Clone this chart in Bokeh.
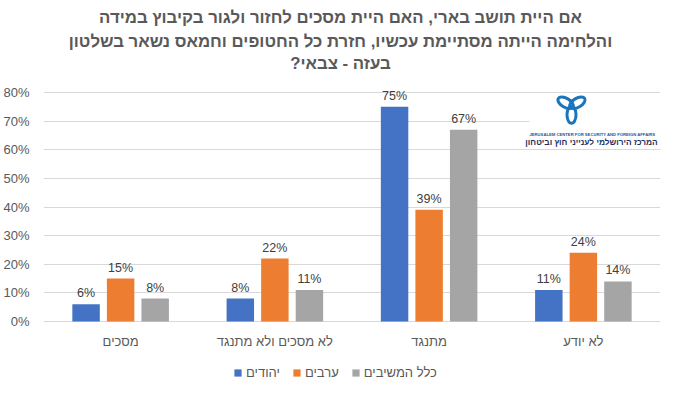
from bokeh.plotting import figure
from bokeh.models import (ColumnDataSource, FactorRange, Range1d, NumeralTickFormatter,
                          FixedTicker, Label, Legend, LegendItem)
from bokeh.transform import dodge
from bokeh.core.properties import value
from bokeh.embed import file_html
from bokeh.resources import INLINE

categories = ["מסכים", "לא מסכים ולא מתנגד", "מתנגד", "לא יודע"]
series_names = ["יהודים", "ערבים", "כלל המשיבים"]
jews = [0.06, 0.08, 0.75, 0.11]
arabs = [0.15, 0.22, 0.39, 0.24]
all_resp = [0.08, 0.11, 0.67, 0.14]
y_ticks = [0.0, 0.1, 0.2, 0.3, 0.4, 0.5, 0.6, 0.7, 0.8]
colors = ["#4472C4", "#ED7D31", "#A5A5A5"]
title_lines = ["אם היית תושב בארי, האם היית מסכים לחזור ולגור בקיבוץ במידה",
               "והלחימה הייתה מסתיימת עכשיו, חזרת כל החטופים וחמאס נשאר בשלטון",
               "בעזה - צבאי?\u200f"]

FONT = "Liberation Sans"

def pct(v):
    return [f"{round(x*100)}%" for x in v]

source = ColumnDataSource(dict(cat=categories, s0=jews, s1=arabs, s2=all_resp,
                               l0=pct(jews), l1=pct(arabs), l2=pct(all_resp)))
cat_source = ColumnDataSource(dict(cat=categories, y=[0.0] * len(categories)))

# frame spans the whole figure height; the value range is stretched so that
# the 0%..80% band sits where the reference draws it
p = figure(width=665, height=380, output_backend="svg", toolbar_location=None,
           x_range=FactorRange(factors=categories, range_padding=0),
           y_range=Range1d(-0.2061, 1.1214),
           min_border_left=34, min_border_right=5, min_border_top=0, min_border_bottom=0)
p.outline_line_color = None
p.background_fill_color = "white"

# logo background (decoration)
p.quad(left=[3.15], right=[4.0], bottom=[0.615], top=[0.785],
       fill_color="white", line_color=None)

offsets = [-0.224, 0.0, 0.224]
renderers = []
for i, off in enumerate(offsets):
    r = p.vbar(x=dodge("cat", off, range=p.x_range), top=f"s{i}", width=0.178,
               source=source, fill_color=colors[i], line_color=None)
    renderers.append(r)
    p.text(x=dodge("cat", off, range=p.x_range), y=f"s{i}", text=f"l{i}", source=source,
           text_align="center", text_baseline="alphabetic", y_offset=-11,
           text_font=value(FONT), text_font_size="12.5px", text_color="#404040")

# category labels under the 0% line
p.text(x="cat", y="y", text="cat", source=cat_source, text_align="center",
       text_baseline="middle", y_offset=20, text_font=value(FONT),
       text_font_size="13px", text_color="#595959")

# axes
p.xaxis.visible = False
p.yaxis.ticker = FixedTicker(ticks=y_ticks)
p.yaxis.formatter = NumeralTickFormatter(format="0%")
p.yaxis.axis_line_color = None
p.yaxis.major_tick_line_color = None
p.yaxis.minor_tick_line_color = None
p.yaxis.major_label_text_font = FONT
p.yaxis.major_label_text_font_size = "13px"
p.yaxis.major_label_text_color = "#595959"
p.yaxis.major_label_standoff = 8

p.xgrid.grid_line_color = None
p.ygrid.grid_line_color = "#D9D9D9"

# title
title_y = [363, 339, 317]
for txt, ty in zip(title_lines, title_y):
    p.add_layout(Label(x=297, y=ty, x_units="screen", y_units="screen", text=txt,
                       text_align="center", text_baseline="middle", text_font=FONT,
                       text_font_size="16.8px", text_font_style="bold", text_color="#595959"))

# logo (decoration)
cx, cy = 3.423, 0.752
p.ellipse(x=[cx - 0.038, cx + 0.038, cx], y=[cy + 0.012, cy + 0.012, cy - 0.03],
          width=9, height=17, width_units="screen", height_units="screen",
          angle=[1.05, -1.05, 0.0], fill_color=None, line_color="#1A75BB", line_width=3)
p.add_layout(Label(x=549, y=246, x_units="screen", y_units="screen",
                   text="JERUSALEM CENTER FOR SECURITY AND FOREIGN AFFAIRS",
                   text_align="center", text_baseline="middle", text_font=FONT,
                   text_font_size="4.2px", text_font_style="bold", text_color="#1A5A9A"))
p.add_layout(Label(x=548, y=239, x_units="screen", y_units="screen",
                   text="המרכז הירושלמי לענייני חוץ וביטחון",
                   text_align="center", text_baseline="middle", text_font=FONT,
                   text_font_size="8.3px", text_font_style="bold", text_color="#1F2F5F"))

legend = Legend(items=[LegendItem(label=series_names[i], renderers=[renderers[i]]) for i in range(3)],
                orientation="horizontal", location=(190, 0),
                label_text_font=FONT, label_text_font_size="13px", label_text_color="#595959",
                glyph_width=9, glyph_height=9, spacing=12, padding=0, margin=0,
                border_line_color=None, background_fill_alpha=0, label_standoff=4)
p.add_layout(legend, "center")

open("out.html", "w").write(file_html(p, INLINE))
